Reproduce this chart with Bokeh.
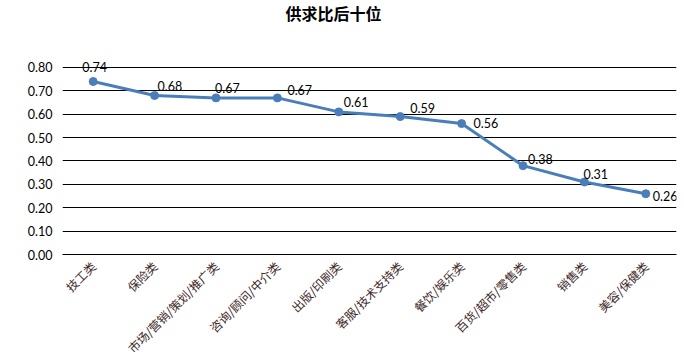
import math
from bokeh.plotting import figure
from bokeh.models import ColumnDataSource, FactorRange, Range1d, FixedTicker, CustomJSTickFormatter, Label
from bokeh.core.properties import value
from bokeh.embed import file_html
from bokeh.resources import INLINE

categories = ["技工类", "保险类", "市场/营销/策划/推广类", "咨询/顾问/中介类", "出版/印刷类",
              "客服/技术支持类", "餐饮/娱乐类", "百货/超市/零售类", "销售类", "美容/保健类"]
ratios = [0.74, 0.68, 0.67, 0.67, 0.61, 0.59, 0.56, 0.38, 0.31, 0.26]
y_ticks = [0.0, 0.1, 0.2, 0.3, 0.4, 0.5, 0.6, 0.7, 0.8]
title_text = "供求比后十位"

# label placement (styling only, pixels)
label_dx = [-11, 3, -1, 10, 5, 10, 12, 5, -1, 7]
label_dy = [-15, -10, -10, -8, -10, -9, -1, -7, -8, 2]

src = ColumnDataSource(dict(
    cat=categories, val=ratios,
    lab=["%.2f" % v for v in ratios],
    dx=label_dx, dy=label_dy,
))

p = figure(width=684, height=364, output_backend="svg", toolbar_location=None,
           x_range=FactorRange(factors=categories, range_padding=0),
           y_range=Range1d(0, 1.0866),
           min_border_left=62, min_border_right=8, min_border_top=0, min_border_bottom=110)
p.outline_line_color = None
p.background_fill_color = "white"
p.border_fill_color = "white"

# title drawn inside the (tall, invisible) frame, in screen units from frame bottom-left
title = Label(x=223, y=242, x_units="screen", y_units="screen", text=title_text,
              text_font="Noto Sans CJK SC", text_font_size="16px", text_font_style="bold",
              text_color="black", text_align="left", text_baseline="middle")
p.add_layout(title)

# grid
p.xgrid.grid_line_color = None
p.ygrid.grid_line_color = "black"
p.ygrid.grid_line_width = 1
p.yaxis.ticker = FixedTicker(ticks=y_ticks)
p.ygrid.ticker = FixedTicker(ticks=y_ticks)

p.yaxis.axis_line_color = None
p.yaxis.major_tick_line_color = None
p.yaxis.minor_tick_line_color = None
p.yaxis.major_tick_out = 0
p.yaxis.major_label_standoff = 10
p.yaxis.major_label_text_font = "Lato"
p.yaxis.major_label_text_font_size = "12.5px"
p.yaxis.major_label_text_color = "black"
p.yaxis.formatter = CustomJSTickFormatter(code="return tick.toFixed(2);")

p.xaxis.axis_line_color = "black"
p.xaxis.major_tick_line_color = None
p.xaxis.minor_tick_line_color = None
p.xaxis.major_tick_out = 0
p.xaxis.major_label_standoff = 9
p.xaxis.major_label_orientation = math.pi / 4
p.xaxis.major_label_text_font = "Noto Sans CJK SC"
p.xaxis.major_label_text_font_size = "12px"
p.xaxis.major_label_text_color = "#402828"

line_color = "#4A7EBB"
p.line("cat", "val", source=src, line_color=line_color, line_width=3)
p.scatter("cat", "val", source=src, size=8, fill_color=line_color, line_color=line_color)

p.text("cat", "val", text="lab", source=src, x_offset="dx", y_offset="dy",
       text_align="left", text_baseline="middle", text_font=value("Lato"),
       text_font_size="12.5px", text_color="black")

open("out.html", "w").write(file_html(p, INLINE))
